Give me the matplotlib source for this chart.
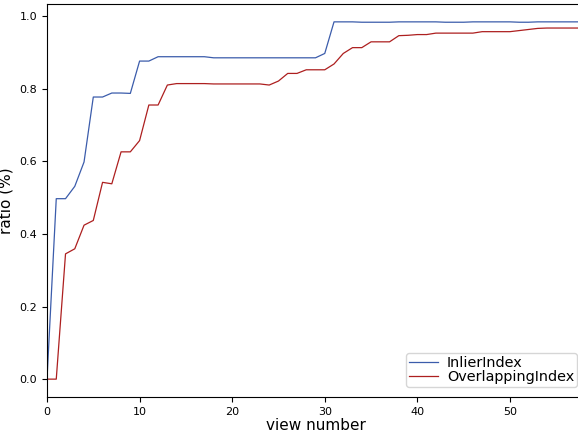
import matplotlib
matplotlib.use('Agg')
import matplotlib.pyplot as plt

# ── data ──────────────────────────────────────────────────────────────────────

views = list(range(59))

inlier = [
    0.0, 0.497, 0.497, 0.531, 0.598, 0.777, 0.777, 0.788, 0.788, 0.787,
    0.876, 0.876, 0.888, 0.888, 0.888, 0.888, 0.888, 0.888, 0.885, 0.885,
    0.885, 0.885, 0.885, 0.885, 0.885, 0.885, 0.885, 0.885, 0.885, 0.885,
    0.897, 0.984, 0.984, 0.984, 0.983, 0.983, 0.983, 0.983, 0.984, 0.984,
    0.984, 0.984, 0.984, 0.983, 0.983, 0.983, 0.984, 0.984, 0.984, 0.984,
    0.984, 0.983, 0.983, 0.984, 0.984, 0.984, 0.984, 0.984, 0.984,
]

overlapping = [
    0.0, 0.0, 0.345, 0.359, 0.424, 0.437, 0.542, 0.538, 0.626, 0.626,
    0.657, 0.755, 0.755, 0.810, 0.814, 0.814, 0.814, 0.814, 0.813, 0.813,
    0.813, 0.813, 0.813, 0.813, 0.810, 0.821, 0.842, 0.842, 0.852, 0.852,
    0.852, 0.868, 0.897, 0.913, 0.913, 0.929, 0.929, 0.929, 0.946, 0.947,
    0.949, 0.949, 0.953, 0.953, 0.953, 0.953, 0.953, 0.957, 0.957, 0.957,
    0.957, 0.960, 0.963, 0.966, 0.967, 0.967, 0.967, 0.967, 0.967,
]

C_INLIER = '#3b5cab'
C_OVERLAP = '#ad1f1f'

W, H = 578, 436


def main():
    fig = plt.figure(figsize=(W / 100, H / 100), dpi=100)
    # axes runs a little past the right edge of the image, as in the original
    ax = fig.add_axes([47 / W, 39 / H, 537 / W, 393 / H])

    ax.plot(views, inlier, color=C_INLIER, lw=0.9, label='InlierIndex')
    ax.plot(views, overlapping, color=C_OVERLAP, lw=0.9, label='OverlappingIndex')

    ax.set_xlim(0, 58)
    ax.set_xlabel('view number', fontsize=11, labelpad=1)
    ax.set_ylabel('ratio (%)', fontsize=11, labelpad=4)
    ax.tick_params(labelsize=8)
    ax.legend(loc='lower right', fontsize=10.4, handlelength=2.0,
              borderpad=0.2, labelspacing=0.0, borderaxespad=0,
              handletextpad=0.6,
              bbox_to_anchor=(577 / W, 49 / H), bbox_transform=fig.transFigure)

    fig.savefig('out.png', dpi=100)
    plt.close(fig)


if __name__ == '__main__':
    main()
